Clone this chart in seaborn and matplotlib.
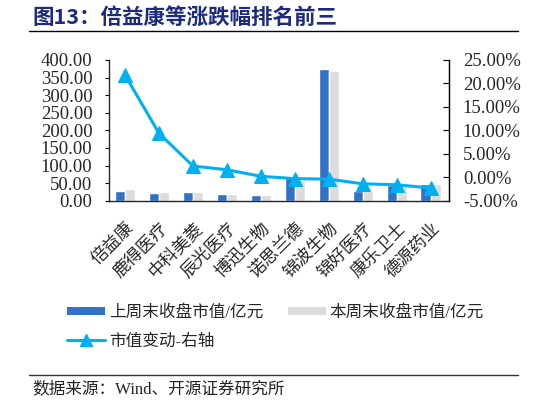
import numpy as np
import pandas as pd
import matplotlib
matplotlib.use("Agg")
import matplotlib.pyplot as plt
import seaborn as sns
from matplotlib.lines import Line2D
from matplotlib.patches import Patch

names = ["倍益康", "鹿得医疗", "中科美菱", "辰光医疗", "博迅生物",
         "诺思兰德", "锦波生物", "锦好医疗", "康乐卫士", "德源药业"]
last_week = [26.5, 23.0, 24.0, 18.0, 15.0, 63.5, 373.0, 27.5, 44.5, 47.0]
this_week = [32.0, 24.0, 24.0, 18.0, 15.0, 60.0, 370.0, 27.0, 41.0, 47.0]
change_pct = [21.8, 9.4, 2.4, 1.6, 0.2, -0.3, -0.4, -1.4, -1.6, -2.3]
series_names = ["上周末收盘市值/亿元", "本周末收盘市值/亿元"]
line_name = "市值变动-右轴"
left_ticks = [0, 50, 100, 150, 200, 250, 300, 350, 400]
right_ticks = [-5, 0, 5, 10, 15, 20, 25]

sns.set_style("white")
plt.rcParams['font.family'] = ['Liberation Serif', 'Noto Sans CJK SC']
plt.rcParams['axes.unicode_minus'] = False

BLUE = "#3171C6"
GREY = "#DCDCDC"
CYAN = "#00B0F0"

fig = plt.figure(figsize=(5.46, 4.05), dpi=100)
ax = fig.add_axes([109/546, 1-200.7/405, 340/546, 140.7/405])

df = pd.DataFrame({
    "name": names * 2,
    "series": [series_names[0]] * len(names) + [series_names[1]] * len(names),
    "value": last_week + this_week,
})
sns.barplot(data=df, x="name", y="value", hue="series", palette=[BLUE, GREY],
            width=0.6, gap=0, saturation=1, ax=ax, legend=False)
ax.set_ylim(0, 400)
ax.set_yticks(left_ticks)
ax.set_yticklabels([f"{v:.2f}" for v in left_ticks], fontsize=13.5,
                   family=['Liberation Serif'])
ax.set_xlim(-0.47, 9.54)
ax.set_xlabel("")
ax.set_ylabel("")
ax.set_xticks(range(len(names)))
ax.set_xticklabels(names, rotation=45, ha='right', rotation_mode='anchor',
                   fontsize=12.5, family=['Noto Sans CJK SC'])
ax.tick_params(axis='x', length=0, pad=13)
ax.tick_params(axis='y', direction='out', length=3, width=0.8, color='black', pad=9)
ax.spines['top'].set_visible(False)
for s in ['left', 'bottom', 'right']:
    ax.spines[s].set_color('black')
    ax.spines[s].set_linewidth(0.9)

ax2 = ax.twinx()
sns.lineplot(x=np.arange(len(names)), y=change_pct, ax=ax2, color=CYAN,
             linewidth=2.2, marker='^', markersize=10, markeredgecolor=CYAN)
ax2.set_ylim(-5, 25)
ax2.set_yticks(right_ticks)
ax2.set_yticklabels([f"{v:.2f}%" for v in right_ticks], fontsize=13.5,
                    family=['Liberation Serif'])
ax2.tick_params(axis='y', direction='in', length=4, width=0.8, color='black', pad=10)
ax2.spines['top'].set_visible(False)
ax2.spines['right'].set_color('black')
ax2.spines['right'].set_linewidth(0.9)
ax2.set_ylabel("")
ax2.set_xlim(-0.47, 9.54)

# Title
fig.text(32/546, 1-17/405, "图13：倍益康等涨跌幅排名前三", fontsize=15.5, fontweight='bold',
         color="#1C2A7F", va='center', ha='left', family=['Noto Sans CJK SC'])
fig.add_artist(Line2D([29/546, 518/546], [1-31/405, 1-31/405], color='black', lw=1.0))

# Legend
handles = [Patch(facecolor=BLUE, edgecolor='none'),
           Line2D([0], [0], color=CYAN, lw=2.2, marker='^', markersize=8),
           Patch(facecolor=GREY, edgecolor='none')]
labels = [series_names[0], line_name, series_names[1]]
fig.legend(handles, labels, ncol=2, loc='upper left',
           bbox_to_anchor=(52/546, 1-290/405), frameon=False,
           prop={'family': ['Liberation Serif', 'Noto Sans CJK SC'], 'size': 12},
           handlelength=2.3, handleheight=0.4, handletextpad=0.2,
           columnspacing=1.5, labelspacing=0.75)

# Source
fig.add_artist(Line2D([29/546, 518/546], [1-375/405, 1-375/405], color='#333333', lw=1.0))
fig.text(32/546, 1-389/405, "数据来源：Wind、开源证券研究所", fontsize=12,
         va='center', ha='left', color='#222222')

fig.savefig("out.png", dpi=100)
